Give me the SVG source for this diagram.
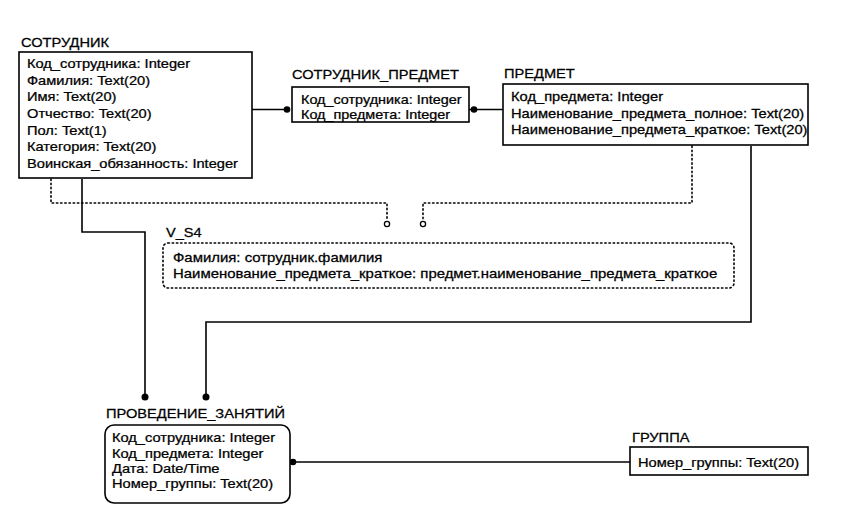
<svg xmlns="http://www.w3.org/2000/svg" width="848" height="515" viewBox="0 0 848 515">
<style>
text{font-family:"Liberation Sans",Arial,sans-serif;font-size:12px;fill:#000;stroke:#000;stroke-width:0.25}
.box{fill:#fff;stroke:#000;stroke-width:1.6}
.vbox{fill:none;stroke:#000;stroke-width:1.6;stroke-dasharray:1.4 2.8;stroke-linecap:round}
.solid{fill:none;stroke:#000;stroke-width:1.6}
.dot{fill:none;stroke:#000;stroke-width:1.6;stroke-dasharray:1.4 2.8;stroke-linecap:round}
.fd{fill:#000;stroke:none}
.od{fill:#fff;stroke:#000;stroke-width:1.3}
</style>
<rect width="848" height="515" fill="#fff"/>
<g id="connectors">
<polyline class="solid" points="252,109.5 287,109.5"/>
<circle class="fd" cx="287" cy="109.5" r="3.3"/>
<polyline class="solid" points="469,109.5 503,109.5"/>
<circle class="fd" cx="474" cy="109.5" r="3.3"/>
<polyline class="dot" points="51,179 51,203 387,203 387,220"/>
<circle class="od" cx="387" cy="224" r="2.6"/>
<polyline class="dot" points="692,146 692,203 423,203 423,220"/>
<circle class="od" cx="423" cy="224" r="2.6"/>
<polyline class="solid" points="82,179 82,232 145,232 145,397"/>
<circle class="fd" cx="145" cy="397" r="3.5"/>
<polyline class="solid" points="751,146 751,322 206,322 206,397"/>
<circle class="fd" cx="206" cy="397" r="3.5"/>
<polyline class="solid" points="290,462 630,462"/>
<circle class="fd" cx="293" cy="462" r="3.3"/>
</g>
<g id="sotrudnik">
<rect class="box" x="19" y="52" width="233" height="126"/>
<text transform="matrix(1.17 0 0 1 21 47)" style="font-size:12.5px">СОТРУДНИК</text>
<g transform="matrix(1.22 0 0 1 27 0)">
<text y="68">Код_сотрудника: Integer</text>
<text y="84.7">Фамилия: Text(20)</text>
<text y="101.4">Имя: Text(20)</text>
<text y="118.1">Отчество: Text(20)</text>
<text y="134.8">Пол: Text(1)</text>
<text y="151.5">Категория: Text(20)</text>
<text y="168.2">Воинская_обязанность: Integer</text>
</g>
</g>
<g id="sotrudnik_predmet">
<rect class="box" x="292" y="87" width="177" height="35"/>
<text transform="matrix(1.17 0 0 1 292 79)" style="font-size:12.5px">СОТРУДНИК_ПРЕДМЕТ</text>
<g transform="matrix(1.2 0 0 1 301 0)">
<text y="104">Код_сотрудника: Integer</text>
<text y="119">Код_предмета: Integer</text>
</g>
</g>
<g id="predmet">
<rect class="box" x="503" y="84" width="305" height="61"/>
<text transform="matrix(1.17 0 0 1 504 78)" style="font-size:12.5px">ПРЕДМЕТ</text>
<g transform="matrix(1.225 0 0 1 511 0)">
<text y="101">Код_предмета: Integer</text>
<text y="118">Наименование_предмета_полное: Text(20)</text>
<text y="134">Наименование_предмета_краткое: Text(20)</text>
</g>
</g>
<g id="v_s4">
<rect class="vbox" x="163" y="243" width="571" height="45" rx="5"/>
<text transform="matrix(1.17 0 0 1 166 237)" style="font-size:12.5px">V_S4</text>
<g transform="matrix(1.245 0 0 1 173 0)">
<text y="262">Фамилия: сотрудник.фамилия</text>
<text y="278">Наименование_предмета_краткое: предмет.наименование_предмета_краткое</text>
</g>
</g>
<g id="provedenie">
<rect class="box" x="105" y="425" width="185" height="78" rx="9"/>
<text transform="matrix(1.17 0 0 1 106 418)" style="font-size:12.5px">ПРОВЕДЕНИЕ_ЗАНЯТИЙ</text>
<g transform="matrix(1.22 0 0 1 112 0)">
<text y="442">Код_сотрудника: Integer</text>
<text y="457.5">Код_предмета: Integer</text>
<text y="473">Дата: Date/Time</text>
<text y="488.5">Номер_группы: Text(20)</text>
</g>
</g>
<g id="gruppa">
<rect class="box" x="630" y="447" width="178" height="28"/>
<text transform="matrix(1.17 0 0 1 632 442)" style="font-size:12.5px">ГРУППА</text>
<g transform="matrix(1.22 0 0 1 638 0)">
<text y="467">Номер_группы: Text(20)</text>
</g>
</g>
</svg>
